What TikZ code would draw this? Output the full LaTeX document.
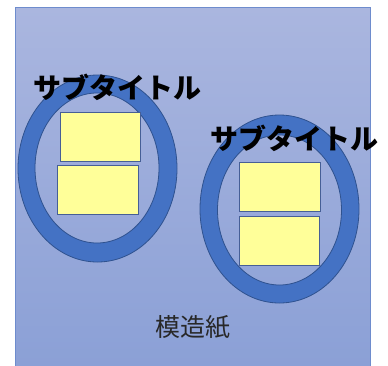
\documentclass[tikz,border=0pt]{standalone}
\usepackage{fontspec}
\newfontfamily\cjk{Noto Sans CJK JP}
\usetikzlibrary{positioning}
\definecolor{bgtop}{RGB}{170,182,223}
\definecolor{bgbot}{RGB}{139,160,214}
\definecolor{bgedge}{RGB}{110,140,205}
\definecolor{ringblue}{RGB}{68,114,196}
\definecolor{ringedge}{RGB}{47,82,143}
\definecolor{cardyellow}{RGB}{255,255,153}
\definecolor{cardedge}{RGB}{70,95,150}
\definecolor{labelgray}{RGB}{40,40,40}
\tikzset{
  ringshape/.style={fill=ringblue, even odd rule, draw=ringedge, line width=0.8pt},
  card/.style={fill=cardyellow, draw=cardedge, line width=1pt},
  subtitle/.style={font={\cjk\bfseries\fontsize{28}{30}\selectfont}, inner sep=0pt, text=black},
  papertitle/.style={font={\cjk\fontsize{25}{27}\selectfont}, inner sep=0pt, text=labelgray}
}
\begin{document}
\begin{tikzpicture}[x=1pt,y=-1pt]
\useasboundingbox (0,0) rectangle (388,365);
% background paper
\shade[top color=bgtop, bottom color=bgbot] (15,7) rectangle (370,366);
\draw[bgedge, line width=0.8pt] (15,366) -- (15,7) -- (370,7) -- (370,366);
% left ring
\path[ringshape] (97.5,168.5) ellipse [x radius=79.5, y radius=93.5]
                 (97,168) ellipse [x radius=62, y radius=75];
\node[card, minimum width=80pt, minimum height=49pt, inner sep=0pt] (l1) at (100,136.5) {};
\node[card, minimum width=81pt, minimum height=49pt, inner sep=0pt] (l2) at (97.5,189.5) {};
% right ring
\path[ringshape] (279.5,209) ellipse [x radius=79.5, y radius=94]
                 (279.5,210) ellipse [x radius=62, y radius=75];
\node[card, minimum width=81pt, minimum height=49pt, inner sep=0pt] (r1) at (279.5,186.5) {};
\node[card, minimum width=80pt, minimum height=49pt, inner sep=0pt] (r2) at (279,240.5) {};
% texts
\node[subtitle] (t1) at (117.5,87) {サブタイトル};
\node[subtitle] (t2) at (294,138) {サブタイトル};
\node[papertitle] (t3) at (192.5,327) {模造紙};
\end{tikzpicture}
\end{document}
